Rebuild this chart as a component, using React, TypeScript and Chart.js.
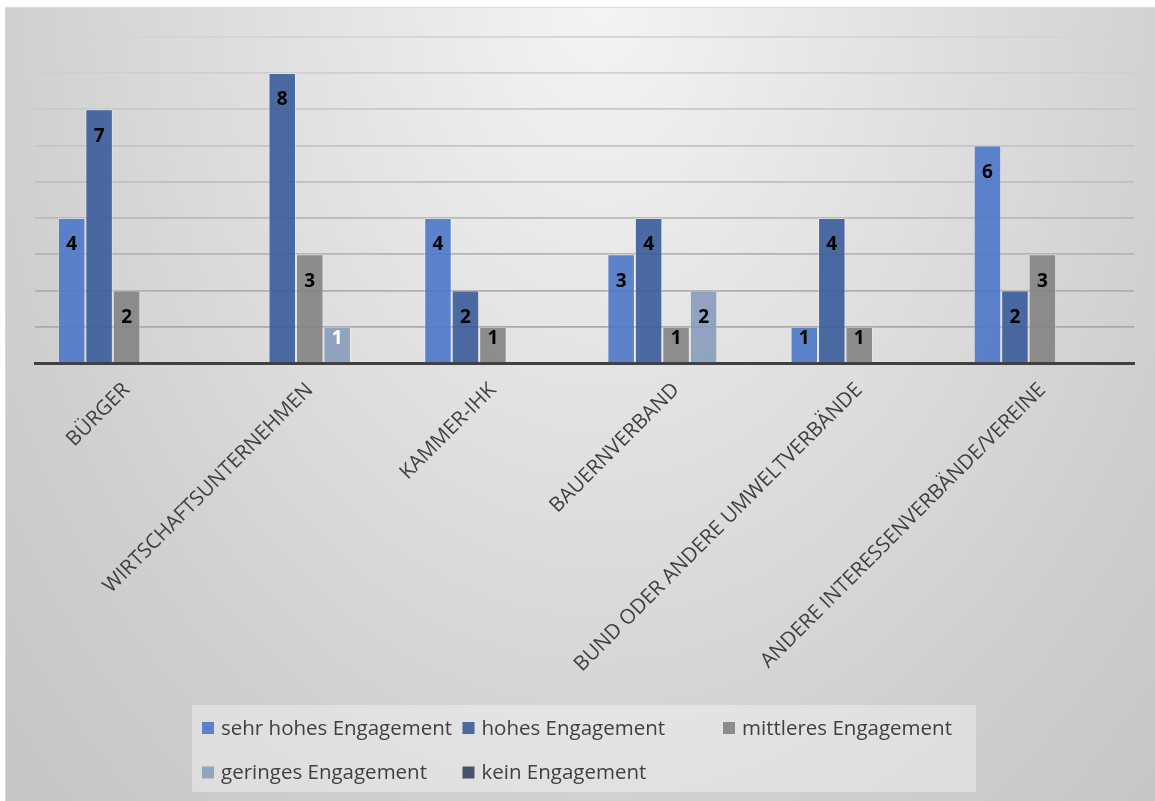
import React, { useEffect, useRef } from "react";
import { Chart, registerables } from "chart.js";

Chart.register(...registerables);

// ---------- data ----------
const categories = [
  "BÜRGER",
  "WIRTSCHAFTSUNTERNEHMEN",
  "KAMMER-IHK",
  "BAUERNVERBAND",
  "BUND ODER ANDERE UMWELTVERBÄNDE",
  "ANDERE INTERESSENVERBÄNDE/VEREINE",
];
const seriesNames = [
  "sehr hohes Engagement",
  "hohes Engagement",
  "mittleres Engagement",
  "geringes Engagement",
  "kein Engagement",
];
const sehrHohes = [4, null, 4, 3, 1, 6];
const hohes = [7, 8, 2, 4, 4, 2];
const mittleres = [2, 3, 1, 1, 1, 3];
const geringes = [null, 1, null, 2, null, null];
const kein = [null, null, null, null, null, null];
const yMin = 0;
const yMax = 9;
const yStep = 1;

// ---------- styles ----------
const barColors = [
  "rgba(76,119,200,0.9)",
  "rgba(57,92,153,0.9)",
  "rgba(131,131,131,0.9)",
  "rgba(134,156,187,0.9)",
  "rgba(50,68,93,0.9)",
];
const legendColors = ["#5B82CB", "#4A69A0", "#8C8C8C", "#8FA3BF", "#44546A"];
const labelColors = [
  ["#000", "#000", "#000", "#000", "#000", "#000"],
  ["#000", "#000", "#000", "#000", "#000", "#000"],
  ["#000", "#000", "#000", "#000", "#000", "#000"],
  ["#000", "#fff", "#000", "#000", "#000", "#000"],
  ["#000", "#000", "#000", "#000", "#000", "#000"],
];
const FONT = "'Open Sans', 'Noto Sans', sans-serif";
const TEXT = "#404040";

const backgroundPlugin = {
  id: "bgFrame",
  beforeDraw(chart: any) {
    const { ctx, width, height } = chart;
    ctx.save();
    ctx.fillStyle = "#ffffff";
    ctx.fillRect(0, 0, width, height);
    const fx = 5, fy = 7;
    ctx.save();
    ctx.beginPath();
    ctx.rect(fx, fy, width - fx, height - fy);
    ctx.clip();
    const cx = 600, cy = 0, rx = 620, ry = 860;
    ctx.translate(cx, cy);
    ctx.scale(rx / ry, 1);
    const g = ctx.createRadialGradient(0, 0, 0, 0, 0, ry * 1.4);
    g.addColorStop(0, "#f4f4f4");
    g.addColorStop(0.7, "#cfcfcf");
    g.addColorStop(1, "#c3c3c3");
    ctx.fillStyle = g;
    ctx.fillRect(-2000, -2000, 4000, 4000);
    ctx.restore();
    ctx.strokeStyle = "#d9d9d9";
    ctx.lineWidth = 1;
    ctx.strokeRect(fx + 0.5, fy + 0.5, width, height);
    ctx.restore();
  },
};

const dataLabelPlugin = {
  id: "barLabels",
  afterDatasetsDraw(chart: any) {
    const { ctx } = chart;
    ctx.save();
    ctx.font = `bold 19px ${FONT}`;
    ctx.textAlign = "center";
    ctx.textBaseline = "middle";
    chart.data.datasets.forEach((ds: any, di: number) => {
      const meta = chart.getDatasetMeta(di);
      meta.data.forEach((el: any, i: number) => {
        const v = ds.data[i];
        if (v === null || v === undefined || v === 0) return;
        const top = el.y;
        const h = el.base - el.y;
        const cy = h < 50 ? top + 12 : top + 27;
        ctx.fillStyle = labelColors[di][i];
        ctx.fillText(String(v), el.x, cy);
      });
    });
    ctx.restore();
  },
};

const legendPlugin = {
  id: "gridLegend",
  afterDraw(chart: any) {
    const { ctx } = chart;
    ctx.save();
    ctx.fillStyle = "rgba(255,255,255,0.35)";
    ctx.fillRect(192, 705, 784, 87);
    ctx.font = `20.5px ${FONT}`;
    ctx.textBaseline = "middle";
    ctx.textAlign = "left";
    chart.data.datasets.forEach((ds: any, i: number) => {
      const col = i % 3;
      const row = Math.floor(i / 3);
      const x = 202 + col * 260.5;
      const y = 728 + row * 44.5;
      ctx.fillStyle = legendColors[i];
      ctx.fillRect(x, y - 6, 12, 12);
      ctx.fillStyle = TEXT;
      ctx.fillText(ds.label, x + 19, y + 1);
    });
    ctx.restore();
  },
};

export default function App() {
  const canvasRef = useRef<HTMLCanvasElement | null>(null);

  useEffect(() => {
    document.body.style.margin = "0";
    const canvas = canvasRef.current;
    if (!canvas) return;
    const seriesData = [sehrHohes, hohes, mittleres, geringes, kein];
    const chart = new Chart(canvas, {
      type: "bar",
      data: {
        labels: categories,
        datasets: seriesNames.map((name, i) => ({
          label: name,
          data: seriesData[i],
          backgroundColor: barColors[i],
          borderColor: "rgba(255,255,255,0.35)",
          borderWidth: 1,
          borderSkipped: "bottom",
          categoryPercentage: 0.75,
          barPercentage: 1,
        })),
      },
      options: {
        responsive: false,
        animation: false,
        devicePixelRatio: 1,
        layout: { padding: { left: 35, right: 21, top: 36.7, bottom: 0 } },
        plugins: {
          legend: { display: false },
          tooltip: { enabled: false },
          title: { display: false },
        },
        scales: {
          x: {
            grid: { display: false, drawTicks: false },
            border: { display: true, color: "#404040", width: 3 },
            ticks: {
              autoSkip: false,
              maxRotation: 45,
              minRotation: 45,
              padding: 15,
              labelOffset: 0,
              color: TEXT,
              font: { family: FONT, size: 20.5 },
            },
            afterFit(scale: any) {
              scale.height = 801 - 363;
            },
          },
          y: {
            min: yMin,
            max: yMax,
            ticks: { display: false, stepSize: yStep },
            border: { display: false },
            grid: {
              drawTicks: false,
              lineWidth: 1.75,
              color: (c: any) => {
                const v = c.tick ? c.tick.value : 0;
                const l = Math.round(0xa4 + (v / yMax) * (0xd4 - 0xa4));
                return `rgb(${l},${l},${l})`;
              },
            },
          },
        },
      },
      plugins: [backgroundPlugin, dataLabelPlugin, legendPlugin],
    });
    return () => chart.destroy();
  }, []);

  return (
    <div style={{ width: 1155, height: 801 }}>
      <canvas ref={canvasRef} width={1155} height={801} style={{ display: "block" }} />
    </div>
  );
}
